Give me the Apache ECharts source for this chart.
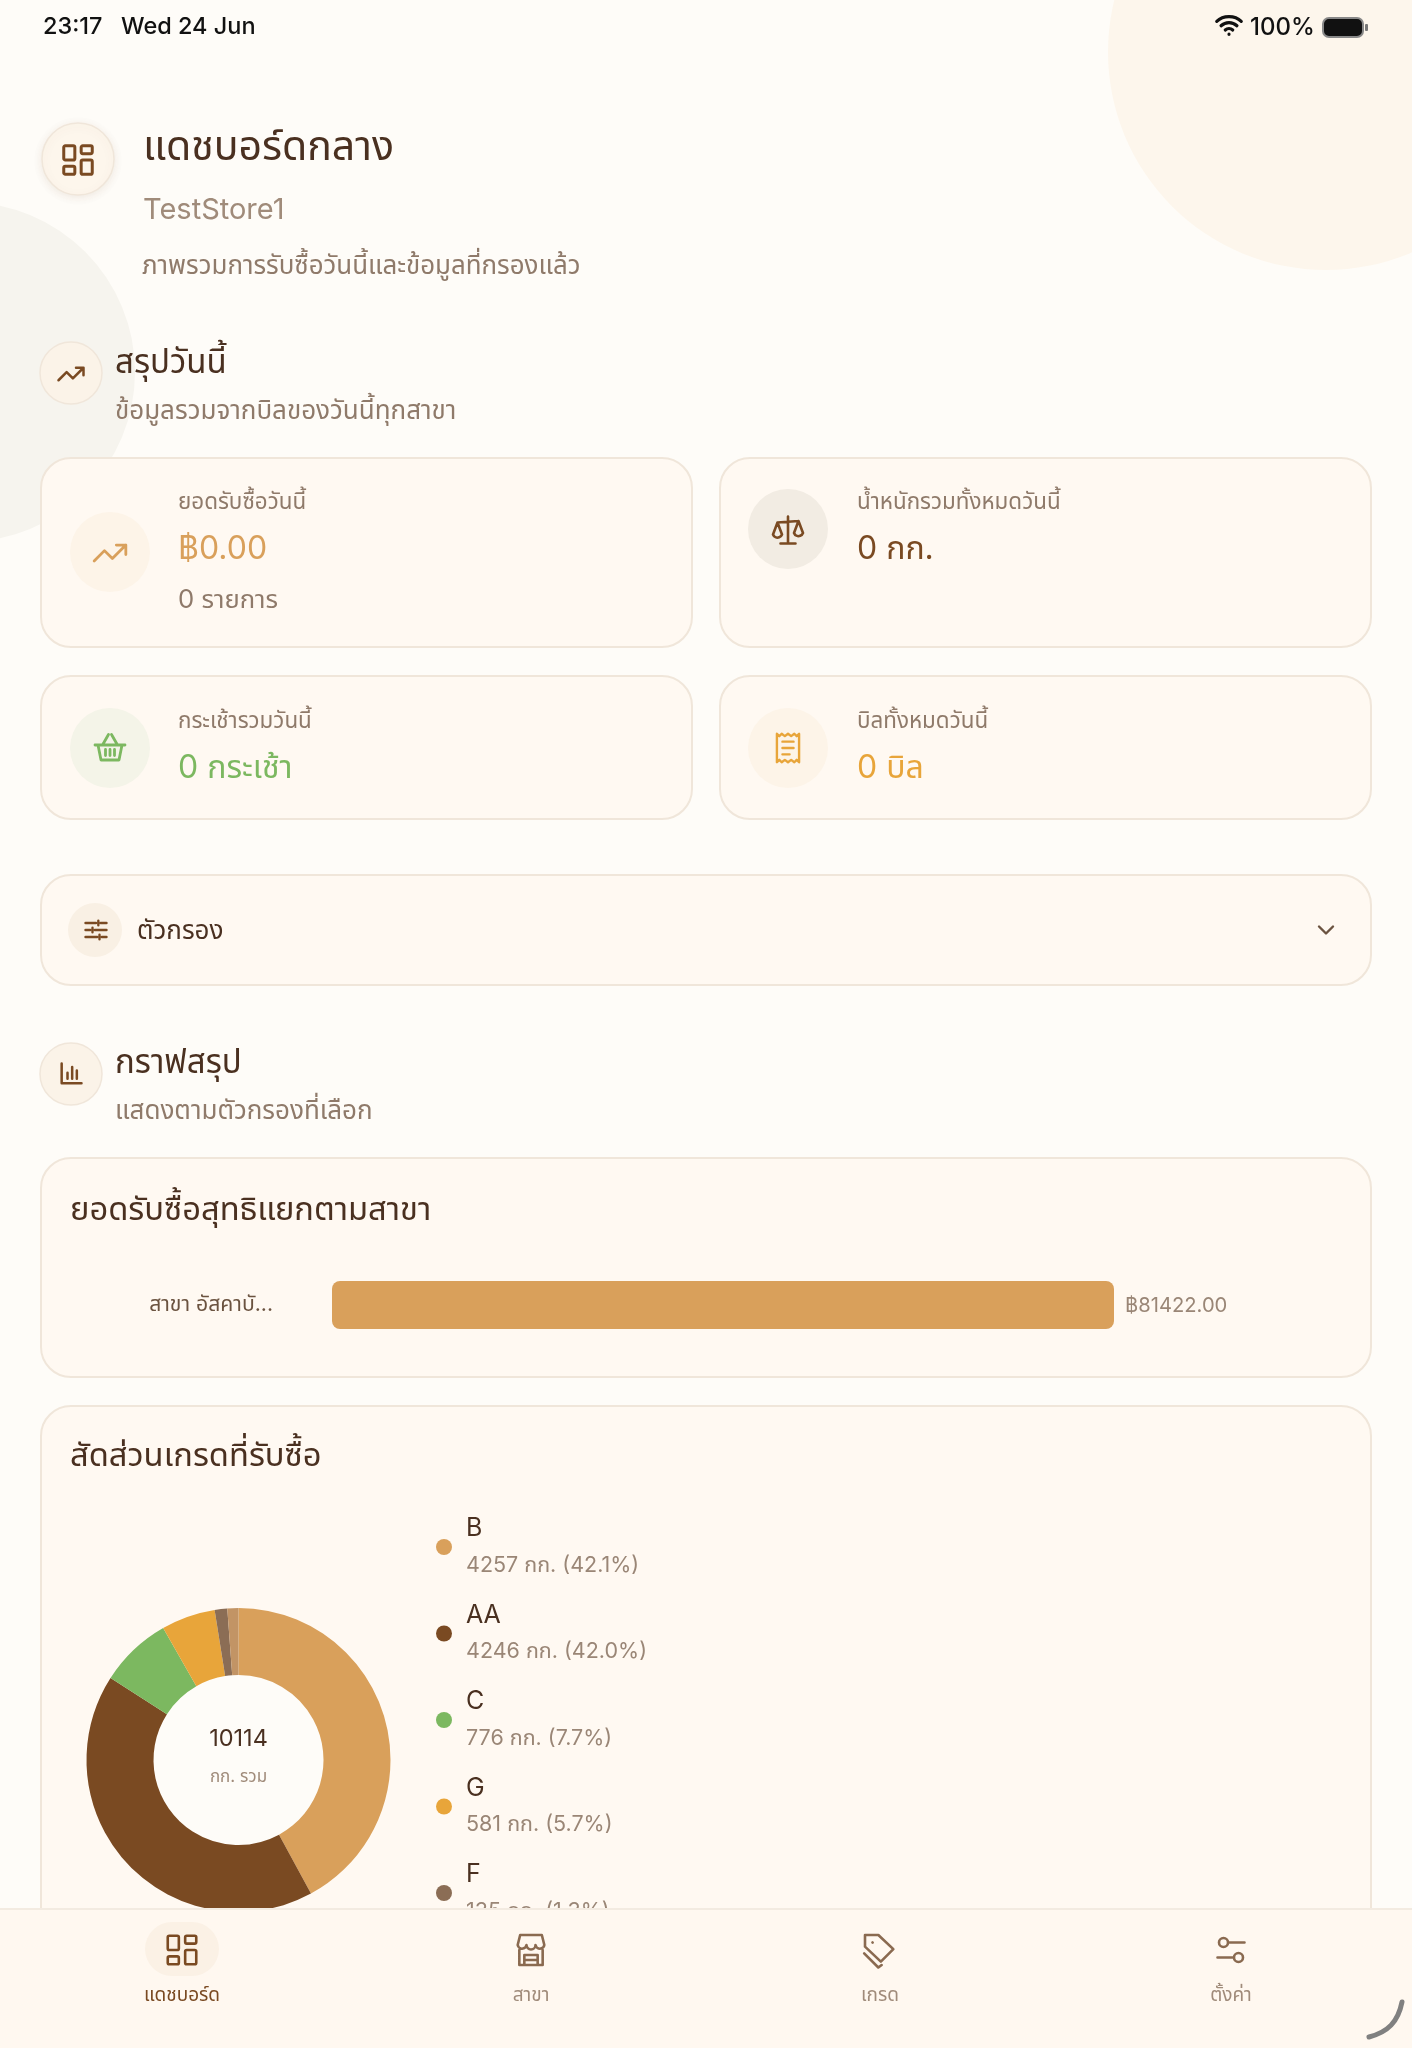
<!DOCTYPE html>
<html><head><meta charset="utf-8">
<style>html,body{margin:0;padding:0;background:#fefcf8}#c{width:1412px;height:2048px}</style>
<script src="https://cdn.jsdelivr.net/npm/echarts@6/dist/echarts.min.js"></script>
</head><body><div id="c"></div>
<script>
// ---- data ----
const branchNames = ['สาขา อัสคาบั...'];
const branchValues = [81422];
const gradeNames = ['B','AA','C','G','F','D'];
const gradeValues = [4257,4246,776,581,135,119];
const gradeColors = ['#d9a05b','#7a4a22','#7cb860','#e8a53a','#8b6d55','#c29465'];
const totalWeight = 10114;
const tabLabels = ['แดชบอร์ด','สาขา','เกรด','ตั้งค่า'];

// ---- style ----
const F = 'Inter, "Noto Sans Thai", "Noto Sans", sans-serif';
const DARK='#4a3020', MID='#8f7a6a', LIGHT='#a08b7a', BROWN='#7a4a22', GOLD='#d9a05b', GREEN='#7cb860', ORANGE='#e8a53a';
const CARD='#fff9f2', BORDER='#f0e6da', BG='#fefcf8';
const ICONS = {
  grid:'M4 3h5a1 1 0 0 1 1 1v7a1 1 0 0 1-1 1H4a1 1 0 0 1-1-1V4a1 1 0 0 1 1-1z M15 3h5a1 1 0 0 1 1 1v3a1 1 0 0 1-1 1h-5a1 1 0 0 1-1-1V4a1 1 0 0 1 1-1z M15 12h5a1 1 0 0 1 1 1v7a1 1 0 0 1-1 1h-5a1 1 0 0 1-1-1v-7a1 1 0 0 1 1-1z M4 16h5a1 1 0 0 1 1 1v3a1 1 0 0 1-1 1H4a1 1 0 0 1-1-1v-3a1 1 0 0 1 1-1z',
  trend:'M2 17L8.5 10.5L13.5 15.5L22 7 M16 7H22V13',
  scale:'M12 3V20 M7 21H17 M5 7L19 6 M5 7L2 15A3.2 3.2 0 0 0 8 15Z M19 6L16 14A3.2 3.2 0 0 0 22 14Z',
  basket:'M2 10H22 M4 10L6 20H18L20 10 M7 10L11 3 M17 10L13 3 M9 13V17 M12 13V17 M15 13V17',
  receipt:'M5 3L6.5 4.5L8 3L10 4.5L12 3L14 4.5L16 3L17.5 4.5L19 3V21L17.5 19.5L16 21L14 19.5L12 21L10 19.5L8 21L6.5 19.5L5 21Z M8.5 8H15.5 M8.5 12H15.5 M8.5 16H13',
  tune:'M3 6H12 M16 6H21 M14 4V8 M3 12H7 M11 12H21 M9 10V14 M3 18H13 M17 18H21 M15 16V20',
  chev:'M6 9L12 15L18 9',
  bars:'M4 3V20H21 M9 16V11 M13 16V6 M17 16V9',
  store:'M4 9L5.5 3H18.5L20 9 M4 9A2.7 2.7 0 0 0 9.3 9A2.7 2.7 0 0 0 14.7 9A2.7 2.7 0 0 0 20 9 M5 12V21H19V12 M8 21V15H16V21 M8 18H16',
  tag:'M3 10V3H11L20 11.5L12.5 19Z M7.5 7.5L7.6 7.6 M2.5 14L11 22.5L13 21',
  sets:'M10 7H21 M3 17H14 M4 7a3 3 0 1 0 6 0a3 3 0 1 0-6 0 M14 17a3 3 0 1 0 6 0a3 3 0 1 0-6 0',
  wifi:'M1.5 8C7 2.6 17 2.6 22.5 8 M5.2 11.8C9 8.2 15 8.2 18.8 11.8 M8.8 15.4C10.6 13.8 13.4 13.8 15.2 15.4 M12 19L12 19.1',
  swoosh:'M24 0C20 20 10 30 -9 35'
};
Object.keys(ICONS).forEach(k=>echarts.graphic.registerShape('ic_'+k,echarts.graphic.extendPath(ICONS[k],{})));
const els = [];
function text(t,x,y,size,fill,opt){ els.push({type:'text',z:(opt&&opt.zz)||1,style:{text:t,x,y:y+1.3,fontSize:size,fill,fontFamily:F,verticalAlign:'middle',align:(opt&&opt.align)||'left',fontWeight:(opt&&opt.w)||400}}); }
function box(x,y,w,h,r,fill,stroke,z){ els.push({type:'rect',z:z||0,shape:{x,y,width:w,height:h,r},style:{fill,stroke,lineWidth:stroke?2:0}}); }
function circ(cx,cy,r,fill,stroke,z,shadow){ els.push({type:'circle',z:z||0,shape:{cx,cy,r},style:Object.assign({fill,stroke,lineWidth:stroke?1.5:0},shadow?{shadowBlur:10,shadowColor:'rgba(120,80,40,0.10)',shadowOffsetY:2}:{})}); }
function icon(n,cx,cy,size,color,lw,z){ const s=size/24; els.push({type:'ic_'+n,z:z||1,x:cx-size/2,y:cy-size/2,scaleX:s,scaleY:s,style:{fill:'none',stroke:color,lineWidth:lw/s,lineCap:'round',lineJoin:'round'}}); }

// background blobs
circ(1326,52,218,'#fdf6ec');
circ(-35,372,170,'#f6f4ee');
// status bar
text('23:17',43,26,23.5,'#111',{w:500});
text('Wed 24 Jun',121,26,23.5,'#111',{w:500});
text('100%',1250,26,24,'#111',{w:500});
icon('wifi',1229,26,28,'#111',3.2);
box(1323,18,40,19,6,'#111','#888');
box(1365,24,3,7,1,'#777');
// header
circ(78,159,36,'#fdf6ec',BORDER,0,true);
icon('grid',78,160,38,BROWN,3);
text('แดชบอร์ดกลาง',143,146,41,DARK);
text('TestStore1',143,209,29,LIGHT);
text('ภาพรวมการรับซื้อวันนี้และข้อมูลที่กรองแล้ว',142,265,25.9,MID);
// section: today
circ(71,373,31,'#fbf3e8',BORDER);
icon('trend',71,374,30,BROWN,2.5);
text('สรุปวันนี้',115,362,33,DARK);
text('ข้อมูลรวมจากบิลของวันนี้ทุกสาขา',115,410,26,MID);
// stat cards
box(41,458,651,189,30,CARD,BORDER);
box(720,458,651,189,30,CARD,BORDER);
box(41,676,651,143,30,CARD,BORDER);
box(720,676,651,143,30,CARD,BORDER);
circ(110,552,40,'#fdf4e8'); icon('trend',110,553,38,GOLD,2.8);
text('ยอดรับซื้อวันนี้',178,501,22.4,MID);
text('฿0.00',178,548,32,GOLD);
text('0 รายการ',178,599,25.7,MID);
circ(788,529,40,'#f2ece3'); icon('scale',788,530,36,BROWN,2.6);
text('น้ำหนักรวมทั้งหมดวันนี้',857,501,22.4,MID);
text('0 กก.',857,548,32,BROWN);
circ(110,748,40,'#f4f4e8'); icon('basket',110,748,36,GREEN,2.8);
text('กระเช้ารวมวันนี้',178,720,22.4,MID);
text('0 กระเช้า',178,767,32,GREEN);
circ(788,748,40,'#fdf4e8'); icon('receipt',788,748,38,ORANGE,2.4);
text('บิลทั้งหมดวันนี้',857,720,22.4,MID);
text('0 บิล',857,767,32,ORANGE);
// filter
box(41,875,1330,110,30,CARD,BORDER);
circ(95,930,27,'#f9f0e4'); icon('tune',96,930,28,BROWN,2.4);
text('ตัวกรอง',137,930,26,DARK);
icon('chev',1326,930,28,'#6b5340',2.4);
// section: charts
circ(71,1074,31,'#fbf3e8',BORDER);
icon('bars',71,1074,28,BROWN,2.5);
text('กราฟสรุป',115,1062,33,DARK);
text('แสดงตามตัวกรองที่เลือก',115,1110,26,MID);
// chart cards
box(41,1158,1330,219,30,CARD,BORDER);
text('ยอดรับซื้อสุทธิแยกตามสาขา',70,1209,32.7,DARK);
box(41,1406,1330,640,30,CARD,BORDER);
text('สัดส่วนเกรดที่รับซื้อ',70,1455,32.7,DARK);
// donut hole and centre text
circ(238.5,1760,86,BG);
text(String(totalWeight),238.5,1738,23.5,DARK,{align:'center',zz:10});
text('กก. รวม',238.5,1776,17,LIGHT,{align:'center',zz:10});
// tab bar (covers clipped content)
els.push({type:'rect',z:100,shape:{x:0,y:1908,width:1412,height:140},style:{fill:'#fff8f0'}});
els.push({type:'rect',z:101,shape:{x:0,y:1908,width:1412,height:2},style:{fill:'#f3ebe1'}});
box(145,1922,74,54,27,'#fbf1e5',null,101);
const tabX=[182,531,880,1231], tabIcon=['grid','store','tag','sets'], tabSize=[38,40,40,36];
tabLabels.forEach((t,i)=>{
  icon(tabIcon[i],tabX[i],1950,tabSize[i],i===0?BROWN:'#8a6a50',2.6,102);
  text(t,tabX[i],1994,19,i===0?BROWN:LIGHT,{align:'center',zz:102});
});
els.push({type:'ic_swoosh',z:103,x:1378,y:2002,style:{fill:'none',stroke:'#808080',lineWidth:5,lineCap:'round'}});

const chart = echarts.init(document.getElementById('c'));
chart.setOption({
  animation:false,
  backgroundColor:BG,
  grid:{left:332,top:1265,width:782,height:80},
  xAxis:{type:'value',min:0,max:branchValues[0],show:false},
  yAxis:{type:'category',data:branchNames,axisLine:{show:false},axisTick:{show:false},
    axisLabel:{color:'#6b5340',fontSize:21.2,margin:59,fontFamily:F,padding:[2,0,0,0]}},
  legend:{left:431,top:1511,orient:'vertical',icon:'circle',itemWidth:16,itemHeight:16,itemGap:26,selectedMode:false,
    data:gradeNames,z:4,
    formatter:n=>{const i=gradeNames.indexOf(n);
      return '{n|'+n+'}\n{d|'+gradeValues[i]+' กก. ('+(gradeValues[i]/totalWeight*100).toFixed(1)+'%)}';},
    textStyle:{fontFamily:F,padding:[0,0,0,9],rich:{n:{fontSize:25,color:DARK,lineHeight:37,fontFamily:F},d:{fontSize:21.5,color:'#9a8676',lineHeight:37,fontFamily:F}}}},
  graphic:{elements:els},
  series:[
    {type:'bar',data:branchValues,barWidth:48,itemStyle:{color:GOLD,borderRadius:8},silent:true,
     label:{show:true,position:'right',distance:11,offset:[0,1],color:'#9a8676',fontSize:20.2,fontFamily:F,formatter:p=>'฿'+p.value.toFixed(2)}},
    {type:'pie',center:[238.5,1760],radius:[85,152],startAngle:90,silent:true,label:{show:false},labelLine:{show:false},
     data:gradeNames.map((n,i)=>({name:n,value:gradeValues[i],itemStyle:{color:gradeColors[i]}}))}
  ]
});
</script></body></html>
